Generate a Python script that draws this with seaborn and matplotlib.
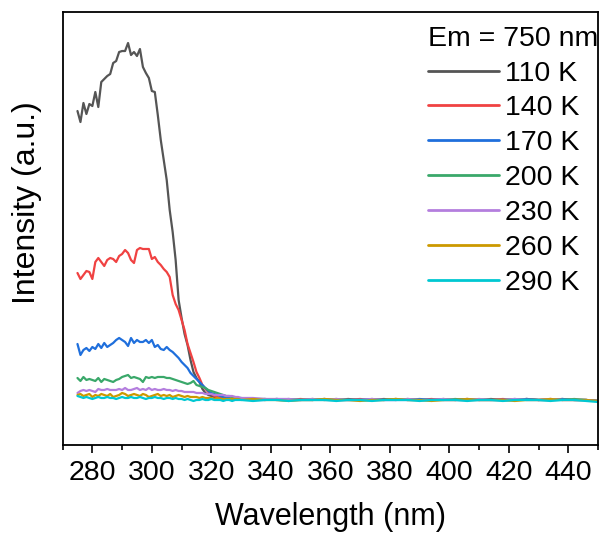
import numpy as np
import pandas as pd
import matplotlib
matplotlib.use("Agg")
import matplotlib.pyplot as plt
import seaborn as sns
from matplotlib.ticker import MultipleLocator

# wavelength grid: 1 nm steps over the band, 4 nm steps on the flat tail
wavelength = list(range(275, 330)) + list(range(330, 451, 4))

temps = ['110 K', '140 K', '170 K', '200 K', '230 K', '260 K', '290 K']
colors = ['#555555', '#f04242', '#1f6fdc', '#3aa86a', '#b47ede', '#cc9900', '#00c8d2']

# intensities (a.u.)
i_110 = [289, 278, 297, 286, 296, 294, 308, 293, 318, 321,
         324, 326, 337, 339, 348, 349, 349, 357, 345, 348,
         344, 351, 333, 327, 322, 309, 308, 285, 260, 240,
         220, 190, 168, 140, 100, 82, 66, 55, 40, 28,
         22, 18, 11, 7, 5, 4, 3, 2, 2, 1,
         1, 1, 1, 1, 1,
         1, 1, 0, 1, 0, 0, 1, 0, 0, 1, 0, 0, 1, 0, 1, 0,
         0, 1, 0, 0, 0, 1, 0, 0, 1, 0, 0, 1, 0, 0, -1]
i_140 = [127, 121, 125, 129, 128, 121, 138, 142, 138, 134,
         140, 142, 141, 138, 144, 146, 150, 147, 140, 137,
         150, 152, 151, 151, 151, 141, 143, 138, 135, 131,
         128, 123, 105, 96, 90, 80, 70, 56, 47, 38,
         28, 22, 15, 11, 8, 6, 4, 3, 2, 2,
         2, 1, 1, 1, 1,
         1, 0, 1, 0, 0, 1, 0, 1, 0, 0, 1, 0, 0, 1, 0, 0,
         1, 0, 0, 1, 0, 0, 1, 0, 1, 0, 1, 0, 0, 0, -1]
i_170 = [56, 45, 50, 52, 49, 53, 51, 56, 52, 57,
         53, 55, 57, 60, 62, 60, 58, 54, 62, 57,
         60, 58, 58, 60, 57, 60, 53, 55, 51, 50,
         53, 50, 48, 45, 42, 38, 35, 32, 27, 24,
         21, 18, 15, 12, 9, 7, 6, 5, 4, 3,
         2, 2, 1, 1, 1,
         1, 0, 0, 1, 0, 0, 0, 1, 0, 0, 0, 1, 0, 0, 0, 1,
         0, 0, 0, 1, 0, 0, 0, 0, 1, 0, 0, 1, 0, 0, -1]
i_200 = [22, 19, 23, 20, 21, 20, 19, 22, 18, 21,
         20, 19, 18, 20, 21, 23, 24, 25, 22, 23,
         22, 21, 18, 23, 22, 23, 22, 23, 23, 23,
         22, 22, 21, 20, 19, 18, 17, 16, 17, 19,
         15, 14, 13, 12, 10, 9, 8, 7, 6, 5,
         4, 4, 3, 3, 2,
         2, 1, 1, 0, 1, 0, 0, 0, 1, 0, 0, 0, 0, 1, 0, 0,
         0, 0, 1, 0, 0, 0, 0, 1, 0, 0, 0, 0, 1, 0, -1]
i_230 = [7, 9, 10, 9, 10, 9, 8, 11, 10, 10,
         11, 10, 10, 10, 11, 10, 12, 10, 10, 11,
         12, 10, 11, 10, 12, 10, 11, 10, 10, 11,
         10, 10, 9, 10, 9, 9, 8, 8, 8, 8,
         7, 7, 7, 6, 6, 6, 5, 5, 5, 5,
         4, 4, 4, 3, 3,
         2, 2, 1, 1, 1, 0, 1, 0, 1, 0, 0, 1, 0, 0, 1, 0,
         0, 1, 0, 0, 1, 0, 0, 1, 0, 0, 1, 0, 0, 0, -1]
i_260 = [5, 6, 4, 5, 6, 3, 5, 4, 6, 5,
         4, 6, 3, 4, 5, 7, 6, 4, 5, 6,
         5, 4, 6, 5, 3, 4, 5, 6, 4, 5,
         4, 5, 3, 4, 5, 4, 3, 4, 3, 3,
         3, 2, 3, 2, 2, 2, 1, 2, 1, 1,
         1, 1, 1, 1, 1,
         0, 1, 0, 0, -1, 0, 0, 1, 0, 0, -1, 0, 0, 1, 0, 0,
         -1, 0, 0, 1, 0, 0, 0, -1, 0, 0, 1, 0, 0, 0, -1]
i_290 = [4, 3, 2, 3, 2, 1, 2, 3, 2, 2,
         3, 2, 2, 1, 2, 3, 2, 2, 3, 2,
         2, 3, 2, 1, 2, 2, 3, 2, 2, 1,
         2, 2, 1, 2, 1, 1, 0, 1, 0, -1,
         0, 0, 1, 0, 0, 1, 0, 0, 0, -1,
         0, 0, -1, 0, 0,
         0, -1, 0, 0, -1, 0, 0, 0, -1, 0, 0, -1, 0, 0, 0, -1,
         0, 0, 0, -1, 0, 0, -1, 0, 0, 0, -1, 0, 0, -1, -2]

series = [i_110, i_140, i_170, i_200, i_230, i_260, i_290]

rows = []
for t, vals in zip(temps, series):
    for w, v in zip(wavelength, vals):
        rows.append({'Wavelength': w, 'Intensity': v, 'T': t})
df = pd.DataFrame(rows)

sns.set_style('ticks')
plt.rcParams['font.family'] = ['Liberation Sans', 'DejaVu Sans']
plt.rcParams['text.color'] = 'black'
plt.rcParams['axes.labelcolor'] = 'black'
plt.rcParams['xtick.color'] = 'black'

fig = plt.figure(figsize=(6.02, 5.34), dpi=100)
ax = fig.add_axes([0.104, 0.1667, 0.8894, 0.8108])

sns.lineplot(data=df, x='Wavelength', y='Intensity', hue='T', hue_order=temps,
             palette=colors, linewidth=1.6, sort=False, estimator=None, ax=ax)

ax.set_xlim(270, 450)
ax.set_ylim(-45, 388)
ax.xaxis.set_major_locator(MultipleLocator(20))
ax.xaxis.set_minor_locator(MultipleLocator(10))
ax.tick_params(axis='x', which='major', direction='out', length=6, width=1.2,
               labelsize=20.5, pad=5, colors='black')
ax.tick_params(axis='x', which='minor', direction='out', length=3.5, width=1.2, colors='black')
ax.tick_params(axis='y', left=False, labelleft=False)
for s in ax.spines.values():
    s.set_linewidth(1.3)
    s.set_color('black')

ax.set_xlabel('Wavelength (nm)', fontsize=22, labelpad=11)
ax.set_ylabel('Intensity (a.u.)', fontsize=23)
ax.yaxis.set_label_coords(-0.038, 0.559)

handles, labels = ax.get_legend_handles_labels()
leg = ax.legend(handles, labels, title='Em = 750 nm', frameon=False,
                loc='upper left', bbox_to_anchor=(0.678, 0.989),
                bbox_transform=fig.transFigure,
                fontsize=20.5, title_fontsize=20.5, handlelength=2.5,
                handletextpad=0.2, labelspacing=0.31, borderpad=0.2)
leg._legend_box.align = 'left'
for line in leg.get_lines():
    line.set_linewidth(2.0)

fig.savefig('out.png', dpi=100)
